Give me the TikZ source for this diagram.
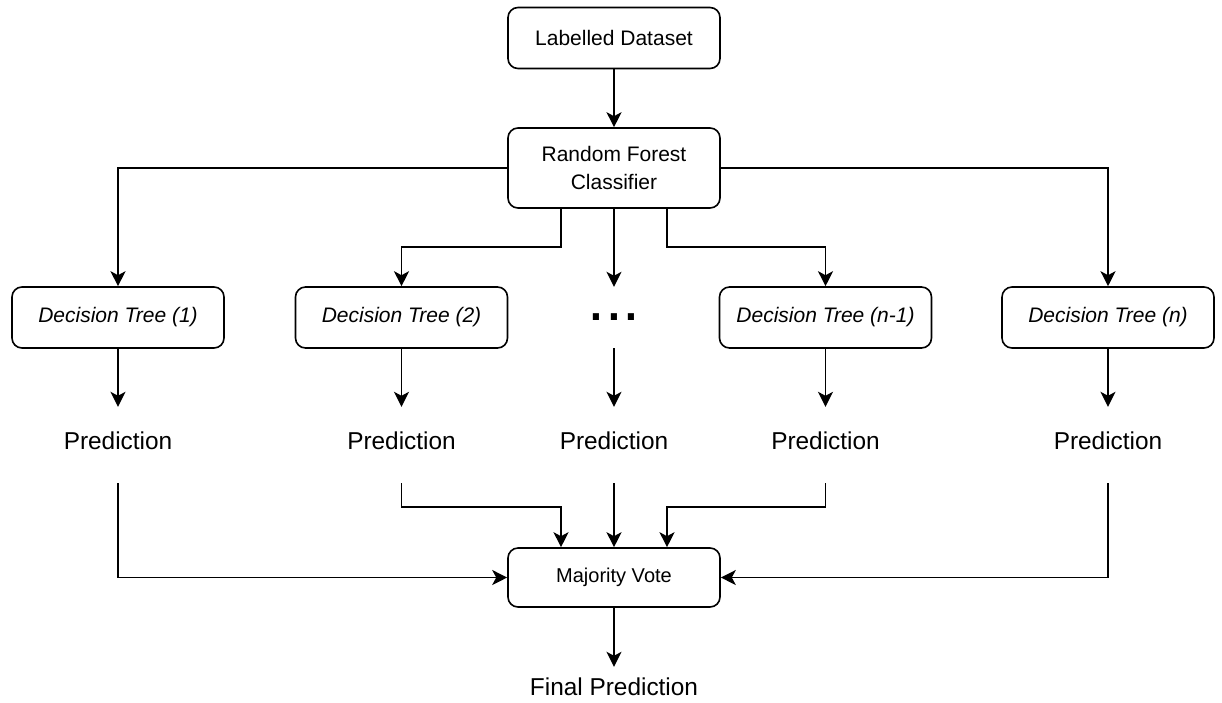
\documentclass[tikz,border=0pt]{standalone}
\usepackage{fontspec}
\setmainfont{Liberation Sans}
\usetikzlibrary{arrows.meta}
\begin{document}
\begin{tikzpicture}[x=1pt,y=1pt,
  box/.style={draw, line width=1.6pt, rounded corners=10pt, minimum width=212pt, minimum height=61pt, inner sep=0pt, align=center, font=\fontsize{21}{28}\selectfont},
  dtbox/.style={box, font=\fontsize{21}{28}\selectfont\itshape},
  pred/.style={inner sep=0pt, text height=42pt, text depth=34pt, anchor=base, font=\fontsize{24.4}{28}\selectfont},
  conn/.style={line width=1.6pt, -{Stealth[length=15pt,width=15pt,inset=4pt]}},
]
\useasboundingbox (0,0) rectangle (1222,-702);

\node[box] (ld) at (614,-38) {Labelled Dataset};
\node[box, minimum height=80pt] (rfc) at (614,-168) {Random Forest\\Classifier};

\node[dtbox] (dt1) at (118,-317.5) {Decision Tree (1)};
\node[dtbox] (dt2) at (401.5,-317.5) {Decision Tree (2)};
\node[minimum width=212pt, minimum height=61pt, inner sep=0pt, font=\fontsize{64}{64}\selectfont] (dots) at (614,-317.5) {...};
\node[dtbox] (dt4) at (825.5,-317.5) {Decision Tree (n-1)};
\node[dtbox] (dt5) at (1108,-317.5) {Decision Tree (n)};

\node[pred] (p1) at (118,-449) {Prediction};
\node[pred] (p2) at (401.5,-449) {Prediction};
\node[pred] (p3) at (614,-449) {Prediction};
\node[pred] (p4) at (825.5,-449) {Prediction};
\node[pred] (p5) at (1108,-449) {Prediction};

\node[box, minimum height=59pt, font=\fontsize{20}{24}\selectfont] (mv) at (614,-577.5) {Majority Vote};
\node[inner sep=0pt, text height=28pt, text depth=6pt, anchor=base, font=\fontsize{24.4}{28}\selectfont] (fp) at (614,-695) {Final Prediction};

\draw[conn] (ld) -- (rfc);
\draw[conn] (rfc.west) -| (dt1.north);
\draw[conn] (rfc.east) -| (dt5.north);
\draw[conn] ([xshift=-53pt]rfc.south) -- ++(0,-38) -| (dt2.north);
\draw[conn] (rfc) -- (dots);
\draw[conn] ([xshift=53pt]rfc.south) -- ++(0,-38) -| (dt4.north);

\draw[conn] (dt1) -- (p1);
\draw[conn] (dt2) -- (p2);
\draw[conn] (dots) -- (p3);
\draw[conn] (dt4) -- (p4);
\draw[conn] (dt5) -- (p5);

\draw[conn] (p1.south) |- (mv.west);
\draw[conn] (p5.south) |- (mv.east);
\draw[conn] (p2.south) -- ++(0,-24) -| ([xshift=-53pt]mv.north);
\draw[conn] (p3) -- (mv);
\draw[conn] (p4.south) -- ++(0,-24) -| ([xshift=53pt]mv.north);
\draw[conn] (mv) -- (fp);
\end{tikzpicture}
\end{document}
